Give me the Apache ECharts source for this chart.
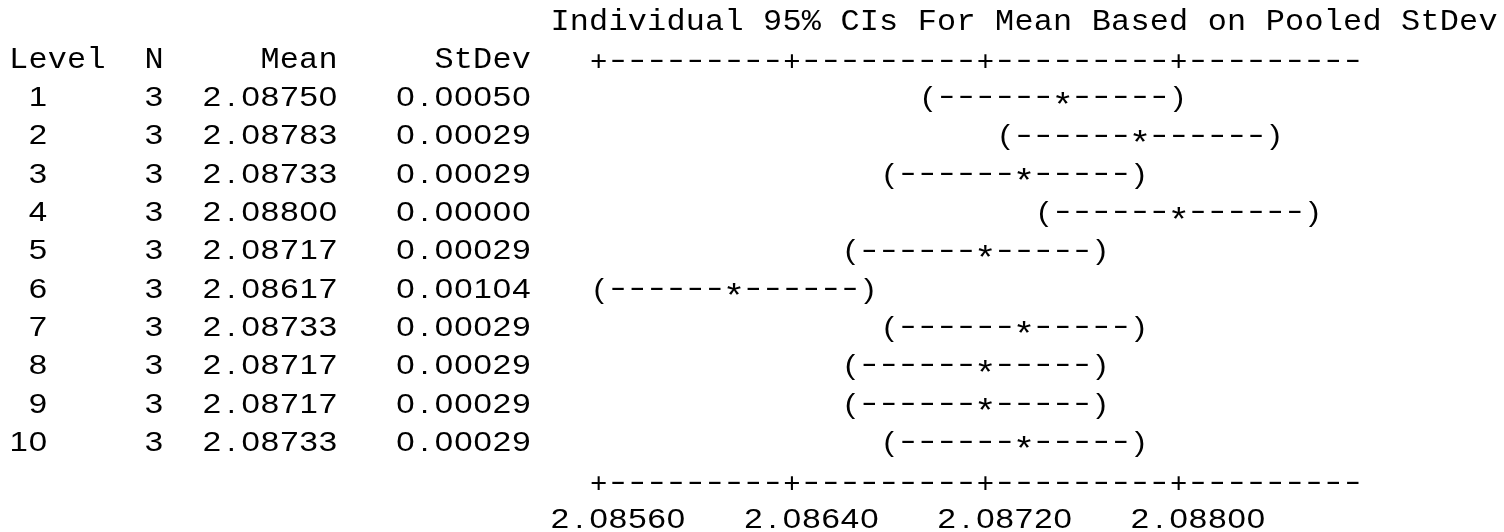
<!DOCTYPE html>
<html>
<head>
<meta charset="utf-8">
<script src="https://cdn.jsdelivr.net/npm/echarts@6/dist/echarts.min.js"></script>
<style>
  html, body { margin: 0; padding: 0; background: #ffffff; }
  #chart { width: 1504px; height: 532px; }
</style>
</head>
<body>
<div id="chart"></div>
<script>
// One-way ANOVA summary: per-level statistics with individual 95% CIs (pooled StDev)
const levels = ['1', '2', '3', '4', '5', '6', '7', '8', '9', '10'];
const counts = [3, 3, 3, 3, 3, 3, 3, 3, 3, 3];
const means = [2.087500, 2.087833, 2.087333, 2.088000, 2.087167, 2.086167, 2.087333, 2.087167, 2.087167, 2.087333];
const stdevs = [0.000500, 0.000289, 0.000289, 0.000000, 0.000289, 0.001041, 0.000289, 0.000289, 0.000289, 0.000289];
const tickValues = [2.08560, 2.08640, 2.08720, 2.08800];
const headerLabels = ['Level', 'N', 'Mean', 'StDev'];
const titleText = 'Individual 95% CIs For Mean Based on Pooled StDev';
const tCritical = 2.086; // t(0.975, df = 20)

// Character-cell layout of the printout: one column = CELL on the value scale
const CELL = 0.00008;
const AXIS_COL = 30;      // column of the first '+' of the ruler
const RULER_LEN = 40;
const ROW_TITLE = 0, ROW_HEAD = 1, ROW_FIRST = 2, ROW_RULE_BOTTOM = 12, ROW_TICKS = 13;
const colValue = c => tickValues[0] + (c - AXIS_COL) * CELL;
const valueCol = v => AXIS_COL + Math.round((v - tickValues[0]) / CELL);

// pooled standard deviation and CI half width
let ss = 0, dfTotal = 0;
stdevs.forEach((s, i) => { ss += (counts[i] - 1) * s * s; dfTotal += counts[i] - 1; });
const pooledSd = Math.sqrt(ss / dfTotal);

const FONT_SANS = '27.5px "Liberation Sans", Arial, sans-serif';
const FONT_STAR = '34px "Liberation Sans", Arial, sans-serif';
const FONT_MONO = '29px "Liberation Mono", "Courier New", monospace';
const glyphKinds = {
  mono:     { font: FONT_MONO, sx: 1.1,  dy: 0 },
  digit:    { font: FONT_SANS, sx: 1.2,  dy: 0 },
  paren:    { font: FONT_SANS, sx: 1.15, dy: 0 },
  ciDash:   { font: FONT_SANS, sx: 1.7,  dy: -1.8 },
  star:     { font: FONT_STAR, sx: 1.1,  dy: 8.5 },
  rulePlus: { font: FONT_SANS, sx: 1.05, dy: 2.6 },
  ruleDash: { font: FONT_SANS, sx: 1.7,  dy: 0.5 }
};

// distance from the 'middle' text baseline down to the alphabetic baseline
const measureCtx = document.createElement('canvas').getContext('2d');
const baselineShift = {};
function shiftFor(font) {
  if (baselineShift[font] === undefined) {
    measureCtx.font = font;
    measureCtx.textBaseline = 'middle';
    const a = measureCtx.measureText('H').actualBoundingBoxDescent;
    measureCtx.textBaseline = 'alphabetic';
    const b = measureCtx.measureText('H').actualBoundingBoxDescent;
    baselineShift[font] = a - b;
  }
  return baselineShift[font];
}

function glyph(api, col, row, ch, kindName) {
  const kind = glyphKinds[kindName];
  const p = api.coord([colValue(col), row]);
  return {
    type: 'text',
    x: p[0],
    y: p[1] - shiftFor(kind.font) + kind.dy,
    scaleX: kind.sx,
    silent: true,
    style: { text: ch, font: kind.font, fill: '#000000', align: 'center', verticalAlign: 'middle' }
  };
}

function textCells(str, startCol, kindFor) {
  const out = [];
  for (let k = 0; k < str.length; k++) {
    const ch = str[k];
    if (ch !== ' ') out.push({ col: startCol + k, ch: ch, kind: kindFor(ch) });
  }
  return out;
}
const rightAt = (str, endCol, kindFor) => textCells(str, endCol - str.length + 1, kindFor);
const monoKind = () => 'mono';
const digitKind = () => 'digit';

// static lines: title, column headings, rulers and tick labels
function frameLines() {
  const lines = [];
  lines.push({ row: ROW_TITLE, cells: textCells(titleText, 28, monoKind) });
  const head = []
    .concat(textCells(headerLabels[0], 0, monoKind))
    .concat(rightAt(headerLabels[1], 7, monoKind))
    .concat(rightAt(headerLabels[2], 16, monoKind))
    .concat(rightAt(headerLabels[3], 26, monoKind));
  lines.push({ row: ROW_HEAD, cells: head });
  [ROW_HEAD, ROW_RULE_BOTTOM].forEach(row => {
    const cells = [];
    for (let k = 0; k < RULER_LEN; k++) {
      const isTick = k % 10 === 0;
      cells.push({ col: AXIS_COL + k, ch: isTick ? '+' : '-', kind: isTick ? 'rulePlus' : 'ruleDash' });
    }
    lines.push({ row: row, cells: cells });
  });
  const tickCells = [];
  tickValues.forEach(t => {
    tickCells.push.apply(tickCells, textCells(t.toFixed(5), valueCol(t) - 2, digitKind));
  });
  lines.push({ row: ROW_TICKS, cells: tickCells });
  return lines;
}
const staticLines = frameLines();

// statistics table rows
const tableLines = levels.map((lv, i) => ({
  row: ROW_FIRST + i,
  cells: []
    .concat(rightAt(lv, 1, digitKind))
    .concat(rightAt(String(counts[i]), 7, digitKind))
    .concat(rightAt(means[i].toFixed(5), 16, digitKind))
    .concat(rightAt(stdevs[i].toFixed(5), 26, digitKind))
}));

function renderLines(lines) {
  return function (params, api) {
    const line = lines[params.dataIndex];
    return {
      type: 'group',
      children: line.cells.map(c => glyph(api, c.col, line.row, c.ch, c.kind))
    };
  };
}

const chart = echarts.init(document.getElementById('chart'), null, { renderer: 'canvas' });
chart.setOption({
  animation: false,
  backgroundColor: '#ffffff',
  grid: { left: 598.67, right: 325.33, top: 29.5, bottom: 4.5 },
  xAxis: { type: 'value', min: tickValues[0], max: tickValues[tickValues.length - 1], show: false },
  yAxis: { type: 'value', min: 0, max: ROW_TICKS, inverse: true, show: false },
  series: [
    {
      name: 'frame',
      type: 'custom',
      clip: false,
      silent: true,
      data: staticLines.map(l => [tickValues[0], l.row]),
      renderItem: renderLines(staticLines)
    },
    {
      name: 'table',
      type: 'custom',
      clip: false,
      silent: true,
      data: tableLines.map(l => [tickValues[0], l.row]),
      renderItem: renderLines(tableLines)
    },
    {
      name: 'CI',
      type: 'custom',
      clip: false,
      silent: true,
      data: means.map((m, i) => [m, ROW_FIRST + i, counts[i]]),
      renderItem: function (params, api) {
        const mean = api.value(0);
        const row = api.value(1);
        const half = tCritical * pooledSd / Math.sqrt(api.value(2));
        const cLow = valueCol(mean - half);
        const cMid = valueCol(mean);
        const cHigh = valueCol(mean + half);
        const children = [glyph(api, cLow, row, '(', 'paren')];
        for (let c = cLow + 1; c < cHigh; c++) {
          children.push(c === cMid ? glyph(api, c, row, '*', 'star') : glyph(api, c, row, '-', 'ciDash'));
        }
        children.push(glyph(api, cHigh, row, ')', 'paren'));
        return { type: 'group', children: children };
      }
    }
  ]
});
</script>
</body>
</html>
